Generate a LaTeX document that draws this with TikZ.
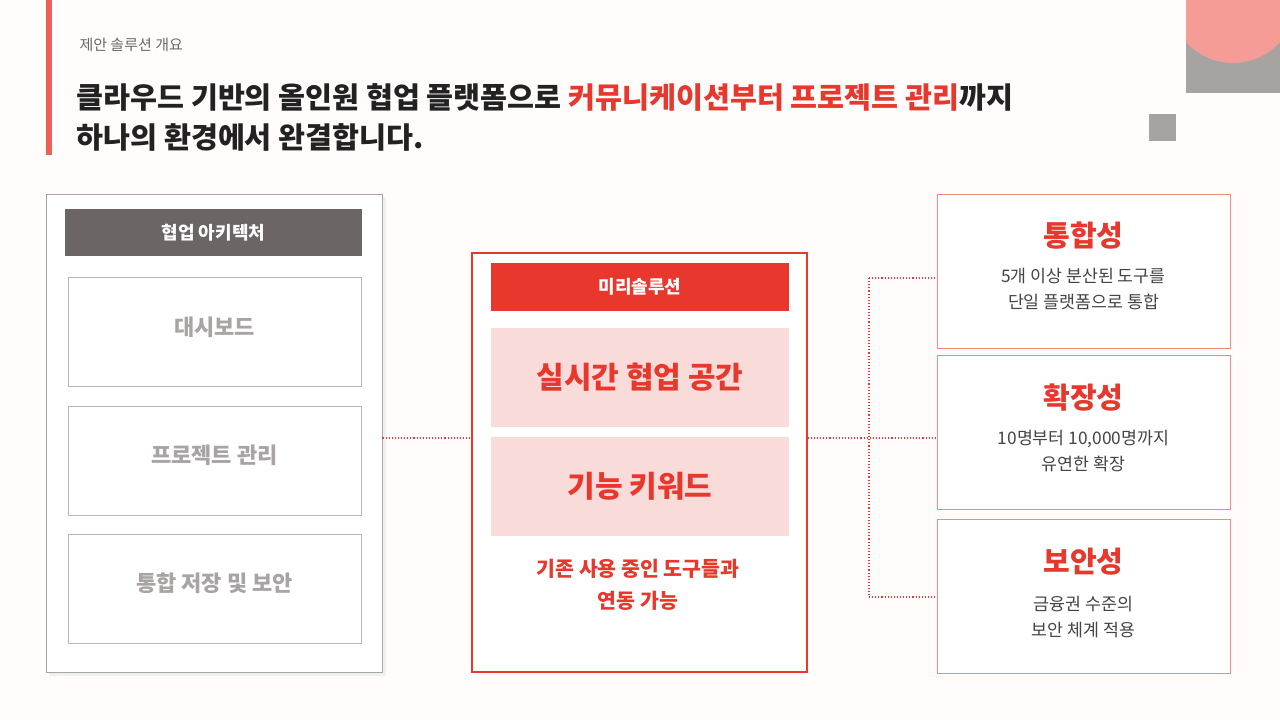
\documentclass[tikz,border=0pt]{standalone}
\usepackage{fontspec}
\setmainfont{Noto Sans CJK KR}
\definecolor{bg}{HTML}{FFFCFB}
\definecolor{accent}{HTML}{E8382E}
\definecolor{pinkc}{HTML}{F59C96}
\definecolor{grayblk}{HTML}{A7A3A1}
\definecolor{dark}{HTML}{6B6565}
\definecolor{softgray}{HTML}{A8A4A4}
\definecolor{pinkbox}{HTML}{F9DBDA}
\definecolor{rborder}{HTML}{EE8A80}
\definecolor{txt}{HTML}{222222}
\definecolor{desc}{HTML}{444444}
\tikzset{
  leftbox/.style={draw=softgray!80,line width=0.8pt,fill=white,minimum width=293pt,minimum height=109pt,inner sep=0pt},
  ltext/.style={font=\bfseries\fontsize{22}{26}\selectfont,text=softgray},
  pbox/.style={fill=pinkbox,minimum width=298pt,minimum height=99pt,inner sep=0pt,font=\bfseries\fontsize{30}{34}\selectfont,text=accent},
  rbox/.style={draw=rborder,line width=0.8pt,fill=white,minimum width=293pt,minimum height=154pt,inner sep=0pt},
  rtitle/.style={font=\bfseries\fontsize{29}{34}\selectfont,text=accent},
  rdesc/.style={font=\fontsize{17.3}{26}\selectfont,text=desc,align=center},
  dotline/.style={accent,dotted,line width=1.1pt}
}
\begin{document}
\begin{tikzpicture}[x=1pt,y=-1pt]
\fill[bg] (0,0) rectangle (1280,720);
\useasboundingbox (0,0) rectangle (1280,720);
% decorations
\fill[grayblk] (1186,0) rectangle (1280,93);
\begin{scope}
\clip (1186,0) rectangle (1280,93);
\fill[pinkc] (1233,0) circle (63);
\end{scope}
\fill[grayblk] (1149,114) rectangle (1176,141);
\fill[accent!80] (46,0) rectangle (52,155);
% title
\node[anchor=west,font=\fontsize{15}{18}\selectfont,text=desc!80] (sub) at (76,45) {제안 솔루션 개요};
\node[anchor=west,font=\bfseries\fontsize{29.3}{34}\selectfont,text=txt] (t1) at (73,97) {클라우드 기반의 올인원 협업 플랫폼으로 \textcolor{accent}{커뮤니케이션부터 프로젝트 관리}까지};
\node[anchor=west,font=\bfseries\fontsize{29.3}{34}\selectfont,text=txt] (t2) at (73,137) {하나의 환경에서 완결합니다.};
% left panel
\fill[black!6] (49,197) rectangle (386,676);
\node[draw=softgray,line width=0.8pt,fill=white,minimum width=336pt,minimum height=478pt,inner sep=0pt] (lp) at (214,433) {};
\node[fill=dark,minimum width=297pt,minimum height=47pt,inner sep=0pt,text=white,font=\bfseries\fontsize{18}{20}\selectfont] (lh) at (213.5,232.5) {협업 아키텍처};
\node[leftbox] (l1) at (214.5,331.5) {};
\node[leftbox] (l2) at (214.5,460.5) {};
\node[leftbox] (l3) at (214.5,588.5) {};
\node[ltext] at (214.5,327) {대시보드};
\node[ltext] at (214.5,455) {프로젝트 관리};
\node[ltext] at (214.5,583) {통합 저장 및 보안};
% center
\node[draw=accent,line width=1.5pt,fill=white,minimum width=335pt,minimum height=419pt,inner sep=0pt] (cp) at (639.5,462.5) {};
\node[fill=accent,minimum width=298pt,minimum height=48pt,inner sep=0pt,text=white,font=\bfseries\fontsize{18}{20}\selectfont] (ch) at (640,287) {미리솔루션};
\node[pbox] (c1) at (640,377.5) {실시간 협업 공간};
\node[pbox] (c2) at (640,486.5) {기능 키워드};
\node[align=center,font=\bfseries\fontsize{20.5}{32}\selectfont,text=accent] (cn) at (638,585) {기존 사용 중인 도구들과\\연동 가능};
% right
\node[rbox] (r1) at (1083.5,271) {};
\node[rbox] (r2) at (1083.5,432) {};
\node[rbox] (r3) at (1083.5,596) {};
\node[rtitle] (r1t) at (1083.5,236) {통합성};
\node[rdesc] (r1d) at (1083.5,289) {5개 이상 분산된 도구를\\단일 플랫폼으로 통합};
\node[rtitle] (r2t) at (1083.5,398) {확장성};
\node[rdesc] (r2d) at (1083.5,451) {10명부터 10,000명까지\\유연한 확장};
\node[rtitle] (r3t) at (1083.5,562) {보안성};
\node[rdesc] (r3d) at (1083.5,617) {금융권 수준의\\보안 체계 적용};
% connectors
\coordinate (j1) at (869,278);
\coordinate (j3) at (869,597);
\draw[dotline] (lp.east |- 0,438) -- (cp.west |- 0,438);
\draw[dotline] (cp.east |- 0,438) -- (r2.west |- 0,438);
\draw[dotline] (j1) -- (j3);
\draw[dotline] (j1) -- (r1.west |- j1);
\draw[dotline] (j3) -- (r3.west |- j3);
\end{tikzpicture}
\end{document}
